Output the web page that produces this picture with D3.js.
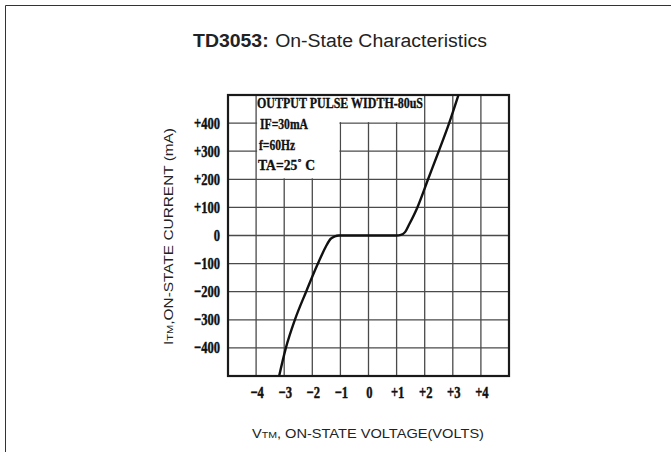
<!DOCTYPE html>
<html>
<head>
<meta charset="utf-8">
<script src="https://cdn.jsdelivr.net/npm/d3@7"></script>
<style>
  body { margin: 0; background: #fff; }
  .cond { font-family: "Liberation Serif", "Times New Roman", serif; font-weight: bold; fill: #111; stroke: #111; stroke-width: 0.35; }
  .tick { font-family: "Liberation Serif", "Times New Roman", serif; font-weight: bold; fill: #111; stroke: #111; stroke-width: 0.45; }
  .sans { font-family: "Liberation Sans", Arial, sans-serif; fill: #222; }
</style>
</head>
<body>
<div id="main"></div>
<script>
const ctx = {
    width: 671,
    height: 452,
    plot: {left: 228, right: 509, top: 95, bottom: 376}
};

// axis ticks
const xTicks = [-4, -3, -2, -1, 0, 1, 2, 3, 4];
const xTickLabels = ["\u22124", "\u22123", "\u22122", "\u22121", "0", "+1", "+2", "+3", "+4"];
const yTicks = [400, 300, 200, 100, 0, -100, -200, -300, -400];
const yTickLabels = ["+400", "+300", "+200", "+100", "0", "\u2212100", "\u2212200", "\u2212300", "\u2212400"];

// on-state curve (volts, mA)
const voltage = [-3.18, -2.94, -2.62, -2.22, -1.80, -1.52, -1.35, -1.2, -1.05, 0, 1.0, 1.15, 1.3, 1.45, 1.74, 2.12, 2.5, 2.87, 3.2];
const current = [-500, -400, -300, -200, -100, -40, -12, -3, 0, 0, 0, 2, 12, 40, 100, 200, 300, 400, 500];

const noteLines = ["OUTPUT PULSE WIDTH-80uS", "IF=30mA", "f=60Hz", "TA=25\u02DA C"];

function createViz() {
    const svg = d3.select("#main").append("svg")
        .attr("width", ctx.width)
        .attr("height", ctx.height);

    // page frame
    svg.append("path")
        .attr("d", `M5.5,${ctx.height} V5.5 H${ctx.width}`)
        .attr("fill", "none")
        .attr("stroke", "#333")
        .attr("stroke-width", 1);

    const x = d3.scaleLinear().domain([-5, 5]).range([ctx.plot.left, ctx.plot.right]);
    const y = d3.scaleLinear().domain([-500, 500]).range([ctx.plot.bottom, ctx.plot.top]);

    // grid
    const grid = svg.append("g");
    grid.selectAll(".vg")
        .data(xTicks)
        .enter()
        .append("line")
        .attr("x1", d => x(d)).attr("x2", d => x(d))
        .attr("y1", y(500)).attr("y2", y(-500))
        .attr("stroke", "#4a4a4a").attr("stroke-width", 1.3);
    grid.selectAll(".hg")
        .data(yTicks)
        .enter()
        .append("line")
        .attr("x1", x(-5)).attr("x2", x(5))
        .attr("y1", d => y(d)).attr("y2", d => y(d))
        .attr("stroke", "#4a4a4a").attr("stroke-width", 1.3);

    // note box: white cover over the grid cells behind the text
    grid.append("rect")
        .attr("x", x(-4) + 1).attr("y", y(500))
        .attr("width", x(2) - x(-4) - 2).attr("height", y(400) - y(500) - 1)
        .attr("fill", "#fff");
    grid.append("rect")
        .attr("x", x(-4) + 1).attr("y", y(400) - 2)
        .attr("width", x(-1) - x(-4) - 2).attr("height", y(200) - y(400) + 1)
        .attr("fill", "#fff");

    // plot frame
    svg.append("rect")
        .attr("x", x(-5)).attr("y", y(500))
        .attr("width", x(5) - x(-5)).attr("height", y(-500) - y(500))
        .attr("fill", "none")
        .attr("stroke", "#1a1a1a")
        .attr("stroke-width", 2.2);

    // note text
    const noteX = [257, 260, 259, 258];
    const noteW = [166, 48, 36, 57];
    const noteY = [108, 129, 150, 170];
    svg.selectAll(".note")
        .data(noteLines)
        .enter()
        .append("text")
        .attr("class", "cond")
        .attr("x", (d, i) => noteX[i])
        .attr("y", (d, i) => noteY[i])
        .attr("textLength", (d, i) => noteW[i])
        .attr("lengthAdjust", "spacingAndGlyphs")
        .style("font-size", "15.5px")
        .text(d => d);

    // curve
    const pts = voltage.map((v, i) => [v, current[i]]);
    const line = d3.line()
        .x(d => x(d[0]))
        .y(d => y(d[1]))
        .curve(d3.curveMonotoneX);
    svg.append("path")
        .datum(pts)
        .attr("d", line)
        .attr("fill", "none")
        .attr("stroke", "#111")
        .attr("stroke-width", 2.4);

    // tick labels (narrow bold face, squeezed horizontally)
    svg.selectAll(".xt")
        .data(xTicks)
        .enter()
        .append("g")
        .attr("transform", d => `translate(${x(d) + 1},398)`)
        .append("text")
        .attr("class", "tick")
        .attr("transform", "scale(0.74,1)")
        .attr("text-anchor", "middle")
        .style("font-size", "17px")
        .text((d, i) => xTickLabels[i]);

    svg.selectAll(".yt")
        .data(yTicks)
        .enter()
        .append("g")
        .attr("transform", d => `translate(220,${y(d) + 5.5})`)
        .append("text")
        .attr("class", "tick")
        .attr("transform", "scale(0.74,1)")
        .attr("text-anchor", "end")
        .style("font-size", "17px")
        .text((d, i) => yTickLabels[i]);

    // title
    const title = svg.append("text")
        .attr("class", "sans")
        .attr("x", 193)
        .attr("y", 47)
        .attr("textLength", 294)
        .attr("lengthAdjust", "spacingAndGlyphs")
        .style("font-size", "18px");
    title.append("tspan").style("font-weight", "bold").text("TD3053:");
    title.append("tspan").attr("dx", 6).text("On-State Characteristics");

    // x axis label
    const xl = svg.append("text")
        .attr("class", "sans")
        .attr("x", 252)
        .attr("y", 438)
        .attr("textLength", 232)
        .attr("lengthAdjust", "spacingAndGlyphs")
        .style("font-size", "12.5px");
    xl.append("tspan").text("V");
    xl.append("tspan").style("font-size", "9px").text("TM");
    xl.append("tspan").text(", ON-STATE VOLTAGE(VOLTS)");

    // y axis label
    const yl = svg.append("text")
        .attr("class", "sans")
        .attr("transform", "translate(173,345) rotate(-90)")
        .attr("textLength", 217)
        .attr("lengthAdjust", "spacingAndGlyphs")
        .style("font-size", "12.5px");
    yl.append("tspan").text("I");
    yl.append("tspan").style("font-size", "9px").text("TM");
    yl.append("tspan").text(",ON-STATE CURRENT (mA)");
}

createViz();
</script>
</body>
</html>
